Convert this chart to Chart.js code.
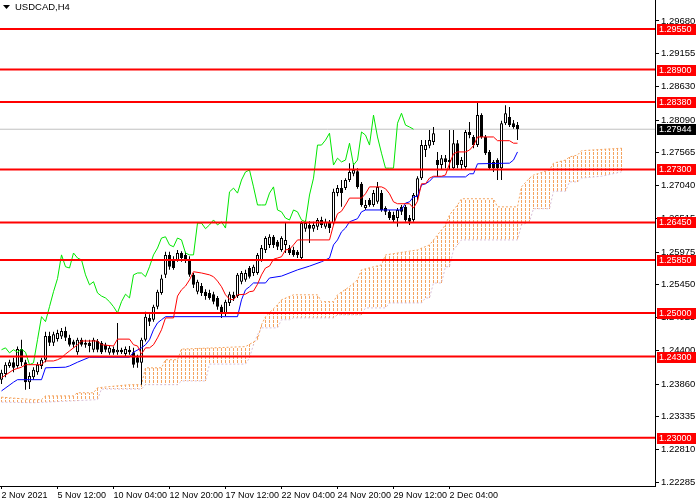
<!DOCTYPE html>
<html>
<head>
<meta charset="utf-8">
<title>USDCAD,H4</title>
<script src="https://cdn.jsdelivr.net/npm/chart.js@4.4.1/dist/chart.umd.min.js"></script>
<style>
  html, body { margin: 0; padding: 0; background: #fff; }
  canvas { display: block; }
</style>
</head>
<body>
<canvas id="chart" width="700" height="500"></canvas>
<script>
// USDCAD H4 bars, 2 Nov - 2 Dec 2021 (one value per 4h bar)
const opens = [
  1.2393, 1.2402, 1.2415, 1.2421, 1.2415, 1.2442, 1.2421, 1.2389, 1.2397, 1.2405,
  1.2415, 1.2425, 1.2463, 1.2452, 1.2458, 1.2462, 1.2471, 1.2460, 1.2454, 1.2437,
  1.2457, 1.2449, 1.2452, 1.2441, 1.2455, 1.2452, 1.2449, 1.2436, 1.2442, 1.2437,
  1.2441, 1.2434, 1.2441, 1.2437, 1.2429, 1.2420, 1.2457, 1.2492, 1.2489, 1.2510,
  1.2532, 1.2561, 1.2593, 1.2585, 1.2585, 1.2596, 1.2593, 1.2585, 1.2561, 1.2534,
  1.2543, 1.2534, 1.2532, 1.2530, 1.2524, 1.2510, 1.2500, 1.2516, 1.2529, 1.2527,
  1.2550, 1.2553, 1.2572, 1.2564, 1.2564, 1.2585, 1.2601, 1.2609, 1.2622, 1.2614,
  1.2601, 1.2609, 1.2604, 1.2601, 1.2598, 1.2588, 1.2635, 1.2641, 1.2635, 1.2638,
  1.2649, 1.2638, 1.2644, 1.2644, 1.2692, 1.2700, 1.2700, 1.2713, 1.2723, 1.2727,
  1.2707, 1.2668, 1.2681, 1.2673, 1.2678, 1.2692, 1.2668, 1.2662, 1.2657, 1.2652,
  1.2670, 1.2670, 1.2652, 1.2649, 1.2686, 1.2716, 1.2761, 1.2768, 1.2774, 1.2745,
  1.2737, 1.2748, 1.2742, 1.2732, 1.2772, 1.2737, 1.2734, 1.2790, 1.2782, 1.2769,
  1.2817, 1.2782, 1.2758, 1.2742, 1.2745, 1.2732, 1.2804, 1.2814, 1.2804, 1.2801
];
const highs = [
  1.2409, 1.2421, 1.2425, 1.2428, 1.2446, 1.2457, 1.2425, 1.2405, 1.2413, 1.2421,
  1.2428, 1.2470, 1.2470, 1.2470, 1.2473, 1.2476, 1.2478, 1.2465, 1.2457, 1.2460,
  1.2460, 1.2457, 1.2457, 1.2460, 1.2458, 1.2455, 1.2452, 1.2447, 1.2446, 1.2484,
  1.2444, 1.2446, 1.2447, 1.2444, 1.2433, 1.2460, 1.2502, 1.2498, 1.2513, 1.2537,
  1.2561, 1.2598, 1.2598, 1.2591, 1.2601, 1.2599, 1.2598, 1.2591, 1.2564, 1.2553,
  1.2548, 1.2538, 1.2537, 1.2534, 1.2527, 1.2513, 1.2521, 1.2534, 1.2534, 1.2564,
  1.2567, 1.2569, 1.2575, 1.2577, 1.2596, 1.2609, 1.2623, 1.2626, 1.2625, 1.2617,
  1.2623, 1.2644, 1.2609, 1.2606, 1.2601, 1.2647, 1.2649, 1.2647, 1.2646, 1.2652,
  1.2654, 1.2651, 1.2649, 1.2699, 1.2705, 1.2713, 1.2716, 1.2740, 1.2740, 1.2732,
  1.2710, 1.2681, 1.2684, 1.2697, 1.2710, 1.2697, 1.2671, 1.2665, 1.2662, 1.2668,
  1.2673, 1.2673, 1.2657, 1.2692, 1.2719, 1.2777, 1.2777, 1.2793, 1.2798, 1.2758,
  1.2753, 1.2753, 1.2793, 1.2793, 1.2777, 1.2750, 1.2793, 1.2806, 1.2785, 1.2838,
  1.2820, 1.2785, 1.2761, 1.2745, 1.2748, 1.2808, 1.2833, 1.2830, 1.2809, 1.2806
];
const lows = [
  1.2386, 1.2397, 1.2412, 1.2405, 1.2412, 1.2415, 1.2377, 1.2378, 1.2393, 1.2401,
  1.2410, 1.2421, 1.2447, 1.2447, 1.2454, 1.2458, 1.2455, 1.2446, 1.2444, 1.2433,
  1.2446, 1.2444, 1.2437, 1.2437, 1.2437, 1.2434, 1.2437, 1.2433, 1.2433, 1.2433,
  1.2434, 1.2431, 1.2433, 1.2412, 1.2412, 1.2385, 1.2454, 1.2479, 1.2486, 1.2506,
  1.2529, 1.2556, 1.2569, 1.2569, 1.2582, 1.2582, 1.2580, 1.2558, 1.2540, 1.2530,
  1.2527, 1.2521, 1.2521, 1.2514, 1.2505, 1.2492, 1.2495, 1.2511, 1.2519, 1.2524,
  1.2546, 1.2550, 1.2555, 1.2559, 1.2561, 1.2582, 1.2596, 1.2604, 1.2604, 1.2601,
  1.2598, 1.2596, 1.2593, 1.2590, 1.2588, 1.2585, 1.2630, 1.2612, 1.2630, 1.2633,
  1.2636, 1.2635, 1.2628, 1.2641, 1.2687, 1.2670, 1.2697, 1.2710, 1.2719, 1.2699,
  1.2670, 1.2665, 1.2670, 1.2670, 1.2675, 1.2662, 1.2657, 1.2649, 1.2644, 1.2638,
  1.2657, 1.2646, 1.2641, 1.2646, 1.2681, 1.2713, 1.2750, 1.2764, 1.2769, 1.2718,
  1.2729, 1.2732, 1.2729, 1.2729, 1.2732, 1.2729, 1.2731, 1.2780, 1.2764, 1.2766,
  1.2779, 1.2753, 1.2729, 1.2726, 1.2713, 1.2713, 1.2801, 1.2798, 1.2795, 1.2777
];
const closes = [
  1.2404, 1.2417, 1.2421, 1.2412, 1.2442, 1.2421, 1.2389, 1.2399, 1.2409, 1.2417,
  1.2425, 1.2463, 1.2452, 1.2466, 1.2468, 1.2471, 1.2460, 1.2449, 1.2449, 1.2457,
  1.2449, 1.2452, 1.2447, 1.2457, 1.2441, 1.2437, 1.2441, 1.2444, 1.2436, 1.2441,
  1.2437, 1.2442, 1.2437, 1.2417, 1.2420, 1.2457, 1.2494, 1.2486, 1.2510, 1.2534,
  1.2555, 1.2593, 1.2574, 1.2572, 1.2596, 1.2588, 1.2585, 1.2561, 1.2545, 1.2550,
  1.2532, 1.2527, 1.2524, 1.2518, 1.2510, 1.2500, 1.2518, 1.2530, 1.2524, 1.2561,
  1.2564, 1.2564, 1.2558, 1.2574, 1.2593, 1.2604, 1.2620, 1.2622, 1.2609, 1.2606,
  1.2620, 1.2617, 1.2596, 1.2593, 1.2593, 1.2644, 1.2644, 1.2635, 1.2641, 1.2649,
  1.2641, 1.2646, 1.2636, 1.2694, 1.2700, 1.2692, 1.2713, 1.2726, 1.2729, 1.2702,
  1.2673, 1.2673, 1.2673, 1.2692, 1.2702, 1.2665, 1.2662, 1.2652, 1.2649, 1.2665,
  1.2662, 1.2649, 1.2646, 1.2689, 1.2716, 1.2769, 1.2769, 1.2777, 1.2788, 1.2737,
  1.2748, 1.2742, 1.2745, 1.2772, 1.2737, 1.2745, 1.2790, 1.2785, 1.2769, 1.2817,
  1.2782, 1.2756, 1.2732, 1.2732, 1.2732, 1.2804, 1.2820, 1.2801, 1.2798, 1.27944
];

// Ichimoku lines, read at the bars where they turn
const tenkanBars = [0, 3, 5, 6, 10, 11, 13, 14, 15, 16, 17, 18, 19, 20, 24, 25, 28, 29, 32, 33,
  34, 35, 36, 37, 38, 39, 40, 41, 43, 44, 45, 46, 47, 48, 50, 52, 53, 54, 55, 56,
  57, 58, 59, 61, 62, 63, 64, 65, 66, 67, 68, 69, 70, 71, 72, 73, 74, 82, 83, 84,
  85, 86, 87, 90, 91, 92, 95, 96, 97, 98, 99, 102, 103, 104, 105, 106, 107, 108, 110, 111,
  112, 113, 114, 116, 117, 118, 119, 123, 124, 127, 128, 129];
const tenkan = [1.2396, 1.2409, 1.2413, 1.2417, 1.2417, 1.2423, 1.2423, 1.2425, 1.2428, 1.2434,
  1.2439, 1.2444, 1.2449, 1.2455, 1.2455, 1.2449, 1.2447, 1.2458, 1.2458, 1.2449,
  1.2447, 1.2434, 1.2444, 1.2444, 1.2449, 1.2460, 1.2473, 1.2492, 1.2492, 1.2527,
  1.2537, 1.2543, 1.2553, 1.2566, 1.2564, 1.2561, 1.2558, 1.2551, 1.2542, 1.2529,
  1.2522, 1.2521, 1.2529, 1.2530, 1.2534, 1.2535, 1.2546, 1.2561, 1.2572, 1.2575,
  1.2586, 1.2588, 1.2590, 1.2601, 1.2602, 1.2609, 1.2617, 1.2617, 1.2641, 1.2659,
  1.2663, 1.2673, 1.2684, 1.2684, 1.2691, 1.2702, 1.2702, 1.2699, 1.2691, 1.2678,
  1.2675, 1.2675, 1.2668, 1.2679, 1.2707, 1.2707, 1.2716, 1.2719, 1.2719, 1.2721,
  1.2739, 1.2755, 1.2758, 1.2758, 1.2761, 1.2768, 1.2782, 1.2782, 1.2776, 1.2776,
  1.2772, 1.2772];

const kijunBars = [0, 3, 4, 10, 11, 16, 17, 19, 22, 32, 33, 35, 36, 37, 38, 39, 40, 41, 59, 60,
  61, 62, 63, 66, 67, 70, 74, 77, 80, 82, 83, 84, 85, 86, 87, 89, 90, 91, 100, 101,
  102, 103, 104, 105, 106, 107, 108, 116, 117, 118, 119, 127, 128, 129];
const kijun = [1.2375, 1.2389, 1.2393, 1.2393, 1.2412, 1.2413, 1.2415, 1.2421, 1.2429, 1.2429,
  1.2437, 1.2444, 1.2449, 1.2457, 1.2473, 1.2484, 1.2489, 1.2494, 1.2494, 1.2521,
  1.2537, 1.2542, 1.2548, 1.2548, 1.2556, 1.2559, 1.2569, 1.2575, 1.2582, 1.2588,
  1.2609, 1.2617, 1.2630, 1.2636, 1.2646, 1.2651, 1.2662, 1.2665, 1.2665, 1.2676,
  1.2678, 1.2686, 1.2687, 1.2705, 1.2707, 1.2711, 1.2718, 1.2718, 1.2723, 1.2723,
  1.2739, 1.2740, 1.2745, 1.2758];

// cloud edges, already shifted 26 bars forward
const spanABars = [0, 8, 10, 11, 18, 19, 23, 24, 32, 35, 36, 40, 41, 44, 45, 61, 64, 65, 66, 69,
  70, 73, 79, 80, 83, 84, 87, 89, 90, 95, 96, 101, 104, 107, 108, 110, 111, 112, 113, 114,
  115, 123, 124, 129, 130, 132, 133, 137, 138, 141, 142, 144, 145, 155];
const spanA = [1.2365, 1.2361, 1.2361, 1.2367, 1.2367, 1.2372, 1.2372, 1.2380, 1.2385, 1.2385,
  1.2412, 1.2412, 1.2425, 1.2425, 1.2442, 1.2446, 1.2457, 1.2481, 1.2494, 1.2513,
  1.2521, 1.2529, 1.2529, 1.2518, 1.2518, 1.2529, 1.2542, 1.2553, 1.2569, 1.2577,
  1.2593, 1.2598, 1.2601, 1.2609, 1.2617, 1.2633, 1.2641, 1.2657, 1.2665, 1.2673,
  1.2683, 1.2683, 1.2670, 1.2670, 1.2702, 1.2716, 1.2721, 1.2729, 1.2740, 1.2745,
  1.2750, 1.2753, 1.2760, 1.2764];
const spanBBars = [0, 8, 24, 25, 35, 36, 44, 45, 51, 52, 61, 62, 63, 64, 65, 69, 70, 72, 73, 83,
  84, 90, 91, 96, 97, 105, 106, 107, 108, 110, 111, 112, 113, 114, 115, 129, 130, 132, 133, 137,
  138, 141, 142, 144, 145, 150, 155];
const spanB = [1.2357, 1.2356, 1.2361, 1.2378, 1.2378, 1.2385, 1.2385, 1.2391, 1.2391, 1.2418,
  1.2418, 1.2428, 1.2449, 1.2465, 1.2476, 1.2476, 1.2489, 1.2489, 1.2492, 1.2492,
  1.2497, 1.2497, 1.2508, 1.2508, 1.2516, 1.2516, 1.2524, 1.2524, 1.2548, 1.2548,
  1.2574, 1.2574, 1.2601, 1.2609, 1.2617, 1.2617, 1.2641, 1.2646, 1.2667, 1.2667,
  1.2695, 1.2695, 1.2710, 1.2710, 1.2716, 1.2719, 1.2726];

const levels = [1.2955, 1.2890, 1.2838, 1.2730, 1.2645, 1.2585, 1.2500, 1.2430, 1.2300];
const lastPrice = 1.27944;

const yTickValues = [1.29680, 1.29155, 1.28630, 1.28090, 1.27565, 1.27040, 1.26515, 1.25975,
  1.25450, 1.24925, 1.24400, 1.23860, 1.23335, 1.22810, 1.22285];
const xTickBars = [0, 14, 28, 42, 56, 70, 84, 98, 112];
const xTickLabels = ['2 Nov 2021', '5 Nov 12:00', '10 Nov 04:00', '12 Nov 20:00', '17 Nov 12:00',
  '22 Nov 04:00', '24 Nov 20:00', '29 Nov 12:00', '2 Dec 04:00'];

const FONT = 'Liberation Sans';
const CLOUD = '#F4A460';
const pts = (bars, vals) => bars.map((b, k) => ({ x: b, y: vals[k] }));
const bull = closes.map((c, i) => c >= opens[i]);

// value of a span edge at a bar, following the drawn edge line
function edgeAt(bars, vals, i) {
  for (let k = 1; k < bars.length; k++) {
    if (i <= bars[k]) {
      const t = (i - bars[k - 1]) / (bars[k] - bars[k - 1]);
      return vals[k - 1] + t * (vals[k] - vals[k - 1]);
    }
  }
  return vals[vals.length - 1];
}

// the cloud as MT4 paints it: one dotted vertical stroke per bar between the two spans
const cloudHatch = {
  id: 'cloudHatch',
  beforeDatasetsDraw(chart) {
    const { ctx: c, chartArea: a, scales: { x, y } } = chart;
    const last = spanABars[spanABars.length - 1];
    c.save();
    c.beginPath();
    c.rect(a.left, a.top, a.right - a.left, a.bottom - a.top);
    c.clip();
    c.strokeStyle = CLOUD;
    c.lineWidth = 1;
    c.setLineDash([3, 1]);
    for (let i = 0; i <= last; i++) {
      const px = x.getPixelForValue(i);
      const ya = y.getPixelForValue(edgeAt(spanABars, spanA, i));
      const yb = y.getPixelForValue(edgeAt(spanBBars, spanB, i));
      const top = Math.round(Math.min(ya, yb));
      const bot = Math.round(Math.max(ya, yb));
      c.lineDashOffset = top % 4;
      c.beginPath();
      c.moveTo(px, top);
      c.lineTo(px, bot);
      c.stroke();
    }
    c.restore();
  }
};

const overlay = {
  id: 'overlay',
  afterDraw(chart) {
    const c = chart.ctx;
    const y = chart.scales.y;
    c.save();
    c.font = '9px "' + FONT + '"';
    c.textBaseline = 'middle';
    c.textAlign = 'left';
    const tag = (value, fill) => {
      const py = Math.round(y.getPixelForValue(value));
      c.fillStyle = fill;
      c.fillRect(657, py - 5, 39, 11);
      c.fillStyle = '#fff';
      c.fillText(value.toFixed(5), 659, py + 0.5);
    };
    levels.forEach(l => tag(l, '#FF0000'));
    tag(lastPrice, '#000');

    // symbol caption
    c.fillStyle = '#000';
    c.beginPath();
    c.moveTo(3, 5);
    c.lineTo(10, 5);
    c.lineTo(6.5, 9);
    c.closePath();
    c.fill();
    c.font = '9.5px "' + FONT + '"';
    c.fillText('USDCAD,H4', 15, 7.5);
    c.restore();
  }
};

const ctx = document.getElementById('chart').getContext('2d');
new Chart(ctx, {
  type: 'bar',
  data: {
    datasets: [
      ...levels.map(l => ({
        type: 'line',
        data: [{ x: -5, y: l }, { x: 200, y: l }],
        borderColor: '#FF0000',
        borderWidth: 2,
        pointRadius: 0,
        order: 0
      })),
      {
        type: 'line', label: 'Tenkan-sen', data: pts(tenkanBars, tenkan),
        borderColor: '#FF0000', borderWidth: 1, pointRadius: 0, order: 2
      },
      {
        type: 'line', label: 'Kijun-sen', data: pts(kijunBars, kijun),
        borderColor: '#0000FF', borderWidth: 1, pointRadius: 0, order: 2
      },
      {
        // Chikou span: closes drawn 26 bars back
        type: 'line', label: 'Chikou Span', data: closes.slice(26).map((c, j) => ({ x: j, y: c })),
        borderColor: '#00E600', borderWidth: 1, pointRadius: 0, order: 2
      },
      {
        label: 'body', data: closes.map((c, i) => ({ x: i, y: [opens[i], c] })),
        backgroundColor: bull.map(b => b ? '#FFFFFF' : '#000000'),
        borderColor: '#000000', borderWidth: 1, borderSkipped: false,
        grouped: false, categoryPercentage: 1, barPercentage: 0.75, maxBarThickness: 3,
        minBarLength: 1, inflateAmount: 0, order: 3
      },
      {
        label: 'wick', data: closes.map((c, i) => ({ x: i, y: [lows[i], highs[i]] })),
        backgroundColor: '#000000', borderWidth: 0,
        grouped: false, maxBarThickness: 1, inflateAmount: 0, order: 4
      },
      {
        type: 'line', label: 'bid', data: [{ x: -5, y: lastPrice }, { x: 200, y: lastPrice }],
        borderColor: '#C0C0C0', borderWidth: 1, pointRadius: 0, order: 6
      },
      {
        type: 'line', label: 'Senkou Span A', data: pts(spanABars, spanA),
        borderColor: CLOUD, borderWidth: 1, borderDash: [2, 2], pointRadius: 0, order: 7
      },
      {
        type: 'line', label: 'Senkou Span B', data: pts(spanBBars, spanB),
        borderColor: '#D8BFD8', borderWidth: 1, borderDash: [2, 2], pointRadius: 0, order: 7
      }
    ]
  },
  options: {
    responsive: false,
    devicePixelRatio: 1,
    animation: false,
    events: [],
    layout: { padding: 0 },
    plugins: {
      legend: { display: false },
      tooltip: { enabled: false }
    },
    scales: {
      x: {
        type: 'linear',
        min: -0.375,
        max: 163.375,
        offset: false,
        afterBuildTicks: s => { s.ticks = xTickBars.map(v => ({ value: v })); },
        afterFit: s => { s.height = 14; s.paddingLeft = 0; s.paddingRight = 0; },
        grid: { drawOnChartArea: false, drawTicks: true, tickLength: 3, color: '#000', offset: false },
        border: { display: true, color: '#000', width: 1 },
        ticks: {
          align: 'start', maxRotation: 0, minRotation: 0, autoSkip: false, padding: 1,
          color: '#000', font: { family: FONT, size: 9 },
          callback: (v, k) => xTickLabels[k]
        }
      },
      y: {
        type: 'linear',
        position: 'right',
        min: 1.22226,
        max: 1.30015,
        afterBuildTicks: s => { s.ticks = yTickValues.map(v => ({ value: v })); },
        afterFit: s => { s.width = 45; s.paddingTop = 0; s.paddingBottom = 0; },
        grid: { drawOnChartArea: false, drawTicks: true, tickLength: 4, color: '#000' },
        border: { display: true, color: '#000', width: 1 },
        ticks: {
          autoSkip: false, padding: 2, color: '#000', font: { family: FONT, size: 9.5 },
          callback: v => v.toFixed(5)
        }
      }
    }
  },
  plugins: [cloudHatch, overlay]
});
</script>
</body>
</html>
